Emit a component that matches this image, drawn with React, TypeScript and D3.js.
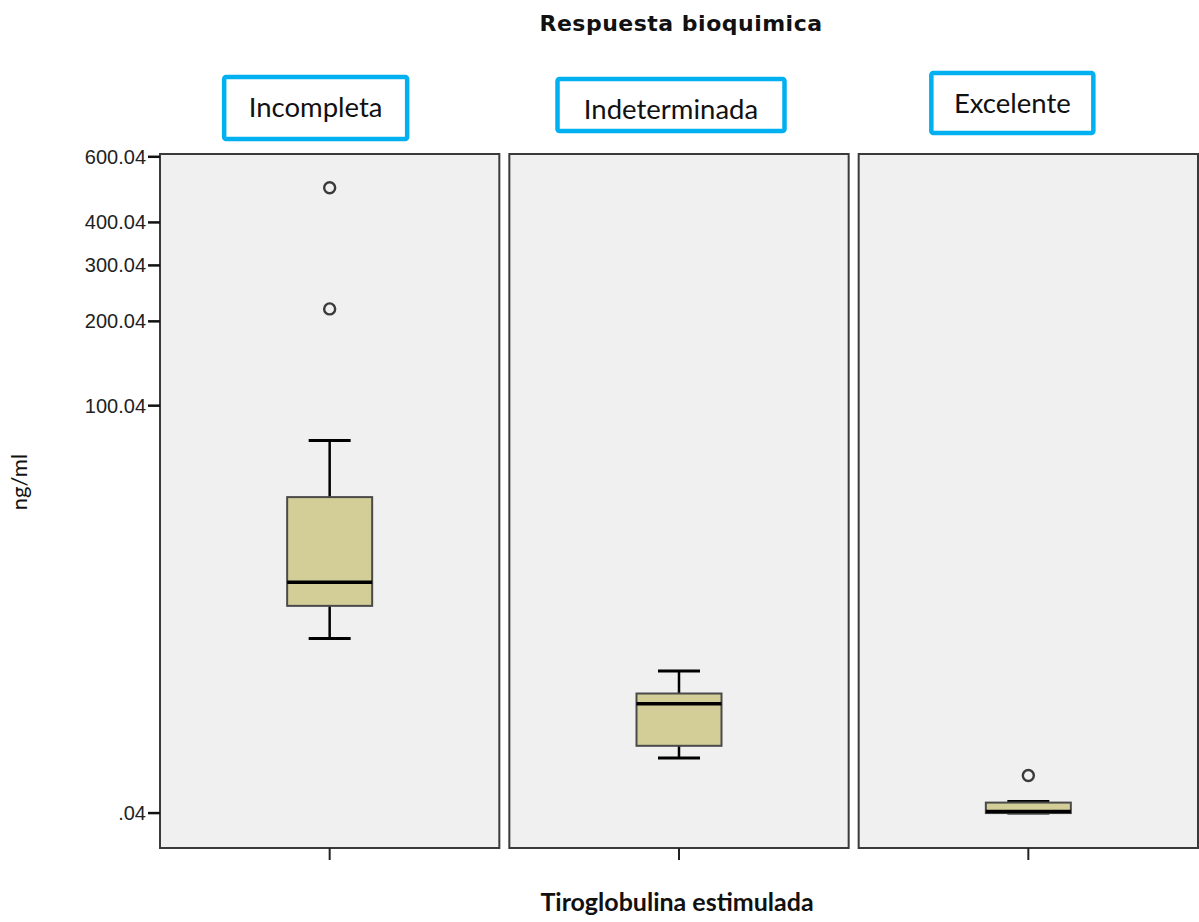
import React from "react";
import * as d3 from "d3";

// Grupos de respuesta bioquímica
const categories = ["Incompleta", "Indeterminada", "Excelente"];

// Resumen de cada caja (ng/ml)
const whiskerLow = [5.97, 0.383, 0.04];
const q1 = [10.08, 0.558, 0.04];
const median = [14.2, 1.654, 0.0436];
const q3 = [40.6, 2.08, 0.068];
const whiskerHigh = [72.5, 3.3, 0.0717];
const outliers: number[][] = [[219.6, 498], [], [0.211]];

// Marcas del eje vertical
const yTicks = [0.04, 100.04, 200.04, 300.04, 400.04, 600.04];

const title = "Respuesta bioquimica";
const xTitle = "Tiroglobulina estimulada";
const yTitle = "ng/ml";

const W = 1199;
const H = 922;
const plot = { left: 160, right: 1198, top: 154, bottom: 848 };
const yDomain: [number, number] = [0.0034, 610];

// Etiquetas enmarcadas sobre cada panel (desplazamiento respecto al centro del panel)
const tagBoxes = [
  { dx: -14, y: 77, w: 183, h: 62, ty: 117 },
  { dx: -8, y: 79, w: 227, h: 52, ty: 119 },
  { dx: -16, y: 73, w: 162, h: 60, ty: 113 },
];

const fmt = (d: number) => d.toFixed(2).replace(/^0(?=\.)/, "");

export default function App() {
  const x = d3
    .scaleBand<string>()
    .domain(categories)
    .range([plot.left, plot.right])
    .paddingInner(10 / 349);
  const y = d3.scalePow().exponent(0.23).domain(yDomain).range([plot.bottom, plot.top]);

  const bw = x.bandwidth();
  const boxW = 85;
  const capW = 42;

  return (
    <div style={{ position: "absolute", left: 0, top: 0 }}>
      <svg width={W} height={H} style={{ display: "block", background: "#ffffff" }}>
        <text
          x={681}
          y={31}
          textAnchor="middle"
          fontFamily="DejaVu Sans"
          fontWeight="bold"
          fontSize={22}
          letterSpacing={0.5}
          fill="#111"
        >
          {title}
        </text>

        {categories.map((c, i) => {
          const x0 = x(c)!;
          const cx = x0 + bw / 2;
          const tb = tagBoxes[i];
          return (
            <g key={c}>
              <rect
                x={x0}
                y={plot.top}
                width={bw}
                height={plot.bottom - plot.top}
                fill="#f0f0f0"
                stroke="#3a3a3a"
                strokeWidth={2}
              />
              {/* bigote superior e inferior */}
              <line x1={cx} x2={cx} y1={y(q3[i])} y2={y(whiskerHigh[i])} stroke="#000" strokeWidth={2.5} />
              <line x1={cx} x2={cx} y1={y(q1[i])} y2={y(whiskerLow[i])} stroke="#000" strokeWidth={2.5} />
              <line
                x1={cx - capW / 2}
                x2={cx + capW / 2}
                y1={y(whiskerHigh[i])}
                y2={y(whiskerHigh[i])}
                stroke="#000"
                strokeWidth={3}
              />
              <line
                x1={cx - capW / 2}
                x2={cx + capW / 2}
                y1={y(whiskerLow[i])}
                y2={y(whiskerLow[i])}
                stroke="#000"
                strokeWidth={3}
              />
              {/* caja */}
              <rect
                x={cx - boxW / 2}
                y={y(q3[i])}
                width={boxW}
                height={Math.max(0, y(q1[i]) - y(q3[i]))}
                fill="#d3ce98"
                stroke="#4a4a4a"
                strokeWidth={2}
              />
              <line
                x1={cx - boxW / 2}
                x2={cx + boxW / 2}
                y1={y(median[i])}
                y2={y(median[i])}
                stroke="#000"
                strokeWidth={3.5}
              />
              {outliers[i].map((v, j) => (
                <circle key={j} cx={cx} cy={y(v)} r={5.5} fill="none" stroke="#3a3a3a" strokeWidth={2.4} />
              ))}
              {/* marca del eje x */}
              <line x1={cx} x2={cx} y1={plot.bottom} y2={plot.bottom + 12} stroke="#222" strokeWidth={2} />
              {/* etiqueta enmarcada */}
              <rect
                x={cx + tb.dx - tb.w / 2}
                y={tb.y}
                width={tb.w}
                height={tb.h}
                rx={2}
                fill="#ffffff"
                stroke="#00b0f0"
                strokeWidth={4.5}
              />
              <text
                x={cx + tb.dx}
                y={tb.ty}
                textAnchor="middle"
                fontFamily="Lato"
                fontSize={27.5}
                fill="#111"
              >
                {c}
              </text>
            </g>
          );
        })}

        {/* eje vertical */}
        {yTicks.map((t) => (
          <g key={t} transform={`translate(0,${y(t)})`}>
            <line x1={plot.left - 12} x2={plot.left} stroke="#111" strokeWidth={2.5} />
            <text
              x={plot.left - 14}
              dy="0.35em"
              textAnchor="end"
              fontFamily="Liberation Sans"
              fontSize={20}
              fill="#222"
            >
              {fmt(t)}
            </text>
          </g>
        ))}

        <text
          x={677}
          y={911}
          textAnchor="middle"
          fontFamily="Lato"
          fontWeight="bold"
          fontSize={25}
          fill="#111"
        >
          {xTitle}
        </text>
        <text
          transform="translate(27,482) rotate(-90)"
          textAnchor="middle"
          fontFamily="Lato"
          fontSize={22}
          fill="#111"
        >
          {yTitle}
        </text>
      </svg>
    </div>
  );
}
